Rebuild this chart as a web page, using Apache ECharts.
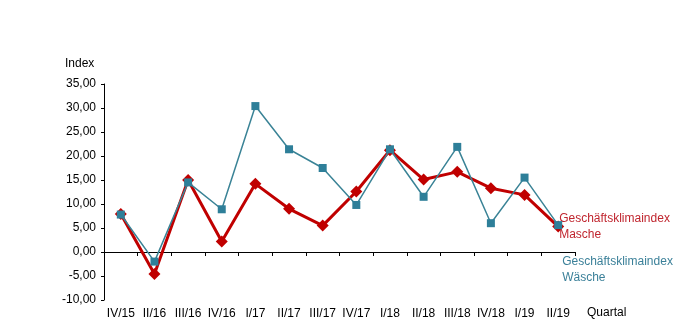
<!DOCTYPE html>
<html><head><meta charset="utf-8">
<script src="https://cdn.jsdelivr.net/npm/echarts@6/dist/echarts.min.js"></script>
<style>html,body{margin:0;padding:0;background:#fff}#c{width:696px;height:333px}</style>
</head><body><div id="c"></div>
<script>
var categories = ['IV/15','II/16','III/16','IV/16','I/17','II/17','III/17','IV/17','I/18','II/18','III/18','IV/18','I/19','II/19'];
var masche = [7.9, -4.6, 15.0, 2.2, 14.2, 9.0, 5.5, 12.6, 21.2, 15.1, 16.7, 13.3, 11.9, 5.3];
var waesche = [7.8, -2.0, 14.5, 8.9, 30.4, 21.4, 17.5, 9.8, 21.4, 11.5, 21.9, 6.0, 15.5, 5.6];
var yTicks = {min: -10, max: 35, interval: 5};
var nameMasche = 'Geschäftsklimaindex\nMasche';
var nameWaesche = 'Geschäftsklimaindex\nWäsche';

var font = 'Liberation Sans, Arial, sans-serif';
var chart = echarts.init(document.getElementById('c'));
chart.setOption({
  animation: false,
  backgroundColor: '#fff',
  textStyle: {fontFamily: font},
  grid: {left: 104, right: 121, top: 84, bottom: 33},
  xAxis: [{
    type: 'category', data: categories, boundaryGap: true,
    axisLine: {onZero: true, lineStyle: {color: '#000', width: 1}},
    axisTick: {show: true, interval: 0, length: 4, lineStyle: {color: '#000'}},
    axisLabel: {show: false, interval: 0}
  }, {
    type: 'category', data: categories, position: 'bottom', boundaryGap: true,
    axisLine: {show: false, onZero: false}, axisTick: {show: false},
    axisLabel: {show: true, margin: 8, color: '#000', fontSize: 12, fontFamily: font, interval: 0}
  }],
  yAxis: {
    type: 'value', min: yTicks.min, max: yTicks.max, interval: yTicks.interval,
    axisLine: {show: true, lineStyle: {color: '#000'}},
    axisTick: {show: true, length: 3, lineStyle: {color: '#000'}},
    splitLine: {show: false},
    axisLabel: {color: '#000', fontSize: 12, fontFamily: font, margin: 8,
      formatter: function (v) { return v.toFixed(2).replace('.', ','); }}
  },
  graphic: [
    {type: 'text', left: 65, top: 58, style: {text: 'Index', fill: '#000', font: '12px ' + font}},
    {type: 'text', left: 587, top: 307, style: {text: 'Quartal', fill: '#000', font: '12px ' + font}}
  ],
  series: [{
    name: 'Wäsche', type: 'line', data: waesche, xAxisIndex: 0,
    symbol: 'rect', symbolSize: 8,
    lineStyle: {color: '#3a8396', width: 1.5},
    itemStyle: {color: '#2e7f99'},
    endLabel: {show: true, formatter: nameWaesche, color: '#3b8099', fontSize: 12,
      fontFamily: font, lineHeight: 16, offset: [-4, 45], align: 'left'},
    z: 3
  }, {
    name: 'Masche', type: 'line', data: masche, xAxisIndex: 0,
    symbol: 'diamond', symbolSize: 12,
    lineStyle: {color: '#c00000', width: 3},
    itemStyle: {color: '#c00000'},
    endLabel: {show: true, formatter: nameMasche, color: '#c0262f', fontSize: 12,
      fontFamily: font, lineHeight: 16, offset: [-7, 0], align: 'left'},
    z: 2
  }]
});
</script></body></html>
